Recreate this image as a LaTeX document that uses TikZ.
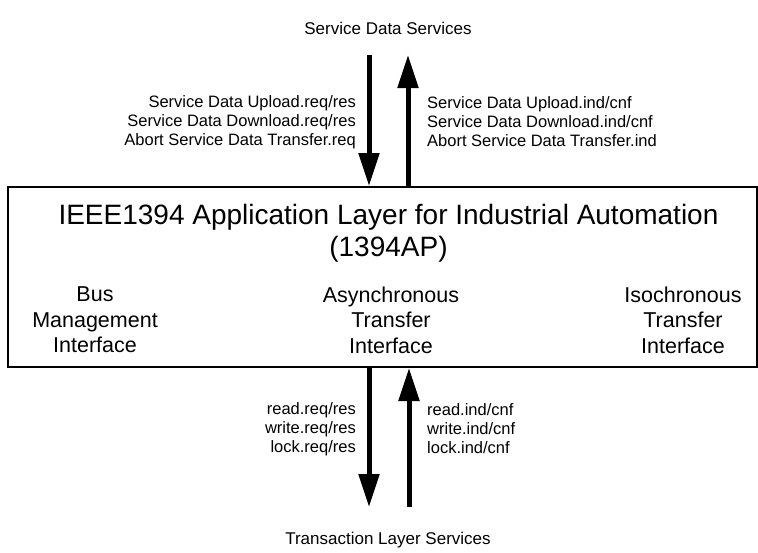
\documentclass[tikz,border=0pt]{standalone}
\usepackage{fontspec}
\setmainfont{Liberation Sans}
\usetikzlibrary{arrows.meta}
\begin{document}
\begin{tikzpicture}[x=1pt,y=-1pt,
  flow/.style={line width=5pt,-{Triangle[width=20pt,length=33pt]}},
  svc/.style={font=\fontsize{16.5}{19}\selectfont,inner sep=0pt},
  head/.style={font=\fontsize{17}{20}\selectfont,inner sep=0pt},
  iface/.style={font=\fontsize{21.5}{25.5}\selectfont,inner sep=0pt,align=center},
  layer/.style={draw,line width=2pt,minimum width=749pt,minimum height=180pt,inner sep=0pt}]
\useasboundingbox (0,0) rectangle (758,552);
% application layer box
\node[layer] (al) at (382.5,277) {};
\node[font=\fontsize{28}{32}\selectfont,align=center,inner sep=0pt] (title) at (388.5,233)
  {IEEE1394 Application Layer for Industrial Automation\\(1394AP)};
\node[iface] (bmi) at (95,320) {Bus\\Management\\Interface};
\node[iface] (ati) at (391,320) {Asynchronous\\Transfer\\Interface};
\node[iface] (iti) at (683,320) {Isochronous\\Transfer\\Interface};
% upper service interface
\node[head] (sds) at (388,28) {Service Data Services};
\coordinate (u1) at (369,55);
\coordinate (u2) at (408,55);
\draw[flow] (u1) -- (u1 |- al.north);
\draw[flow] (u2 |- al.north) -- (u2);
\node[svc,anchor=east,align=right] (ureq) at (356,122)
  {Service Data Upload.req/res\\Service Data Download.req/res\\Abort Service Data Transfer.req};
\node[svc,anchor=west,align=left] (uind) at (427,122)
  {Service Data Upload.ind/cnf\\Service Data Download.ind/cnf\\Abort Service Data Transfer.ind};
% lower transaction interface
\node[head] (tls) at (388,540) {Transaction Layer Services};
\coordinate (l1) at (369,507);
\coordinate (l2) at (409,507);
\draw[flow] (l1 |- al.south) -- (l1);
\draw[flow] (l2) -- (l2 |- al.south);
\node[svc,anchor=east,align=right] (lreq) at (356,429)
  {read.req/res\\write.req/res\\lock.req/res};
\node[svc,anchor=west,align=left] (lind) at (427,429)
  {read.ind/cnf\\write.ind/cnf\\lock.ind/cnf};
\end{tikzpicture}
\end{document}
